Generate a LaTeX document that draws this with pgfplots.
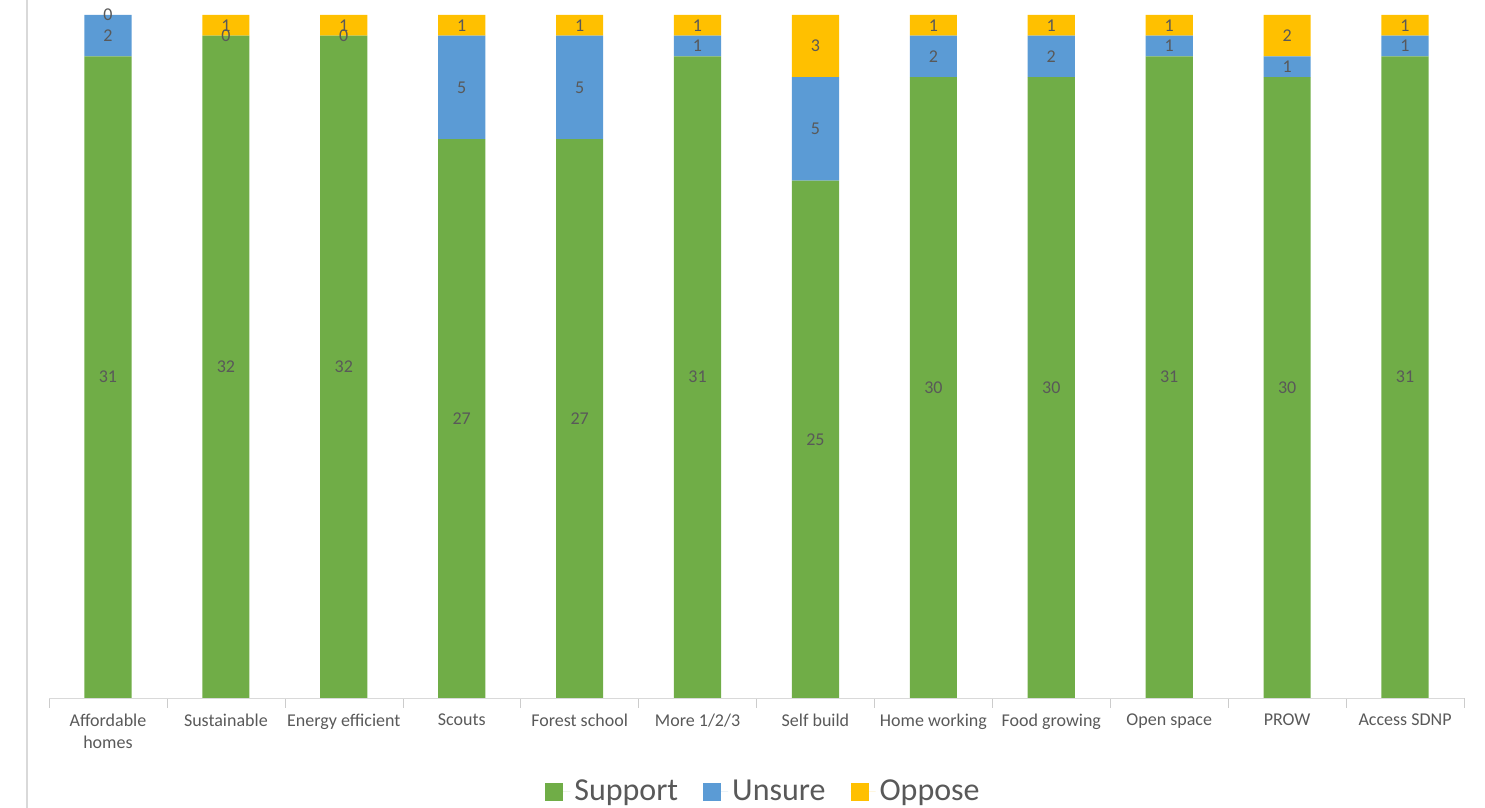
\documentclass[border=0pt]{standalone}
\usepackage{pgfplots}
\pgfplotsset{compat=1.18}
\usepackage{pgfplotstable}
\usepackage{fontspec}
\setmainfont{Carlito}
\definecolor{sup}{HTML}{70AD47}
\definecolor{uns}{HTML}{5B9BD5}
\definecolor{opp}{HTML}{FFC000}
\definecolor{txt}{HTML}{595959}
% x, values (s,u,o) and label positions (mid of each segment: ms,mu,mo)
\pgfplotstableread{
x s u o ms mu mo
0 31 2 0 15.5 32 33
1 32 0 1 16 32 32.5
2 32 0 1 16 32 32.5
3 27 5 1 13.5 29.5 32.5
4 27 5 1 13.5 29.5 32.5
5 31 1 1 15.5 31.5 32.5
6 25 5 3 12.5 27.5 31.5
7 30 2 1 15 31 32.5
8 30 2 1 15 31 32.5
9 31 1 1 15.5 31.5 32.5
10 30 1 2 15 30.5 32
11 31 1 1 15.5 31.5 32.5
}\data
\begin{document}
\begin{tikzpicture}
\path[use as bounding box] (-24.5pt,-55pt) rectangle (718pt,349pt);
\draw[black!15, line width=0.75pt] (-11pt,-55pt) -- (-11pt,349pt);
\begin{axis}[at={(0,0)}, anchor=south west, scale only axis,
  width=707.5pt, height=341.5pt,
  ybar stacked, bar width=0.4,
  ymin=0, ymax=33, xmin=-0.5, xmax=11.5,
  hide y axis, axis x line*=bottom,
  x axis line style={-, draw=black!15},
  xtick={0,...,11}, major x tick style={draw=none},
  minor xtick={-0.5,0.5,...,11.5}, minor tick length=5pt,
  xtick align=outside, minor x tick style={black!20},
  xticklabels={{Affordable\\homes},Sustainable,Energy efficient,Scouts,Forest school,More 1/2/3,Self build,Home working,Food growing,Open space,PROW,Access SDNP},
  xticklabel style={font=\fontsize{9}{11}\selectfont, text=txt, align=center},
  legend style={at={(axis description cs:0.5,0)}, anchor=center, yshift=-47pt, xshift=4pt,
    draw=none, font=\fontsize{16}{19}\selectfont, text=txt,
    /tikz/every even column/.append style={column sep=10.5pt}},
  legend columns=-1,
  legend image code/.code={\fill[#1] (0pt,-4.5pt) rectangle (9pt,4.5pt);
    \path[draw=none] (0pt,0pt) -- (12.5pt,0pt);},
]
\addplot[fill=sup, draw=none] table[x=x, y=s]{\data};
\addplot[fill=uns, draw=none] table[x=x, y=u]{\data};
\addplot[fill=opp, draw=none] table[x=x, y=o]{\data};
\legend{Support,Unsure,Oppose}
\end{axis}
\begin{axis}[at={(0,0)}, anchor=south west, scale only axis,
  width=707.5pt, height=341.5pt,
  ymin=0, ymax=33, xmin=-0.5, xmax=11.5,
  hide axis, clip=false,
  nodes near coords, point meta=explicit,
  /pgf/number format/assume math mode=true,
  every node near coord/.append style={font=\fontsize{9}{11}\selectfont, text=txt, anchor=center},
]
\addplot[draw=none, mark=none] table[x=x, y=ms, meta=s]{\data};
\addplot[draw=none, mark=none] table[x=x, y=mu, meta=u]{\data};
\addplot[draw=none, mark=none] table[x=x, y=mo, meta=o]{\data};
\end{axis}
\end{tikzpicture}
\end{document}
